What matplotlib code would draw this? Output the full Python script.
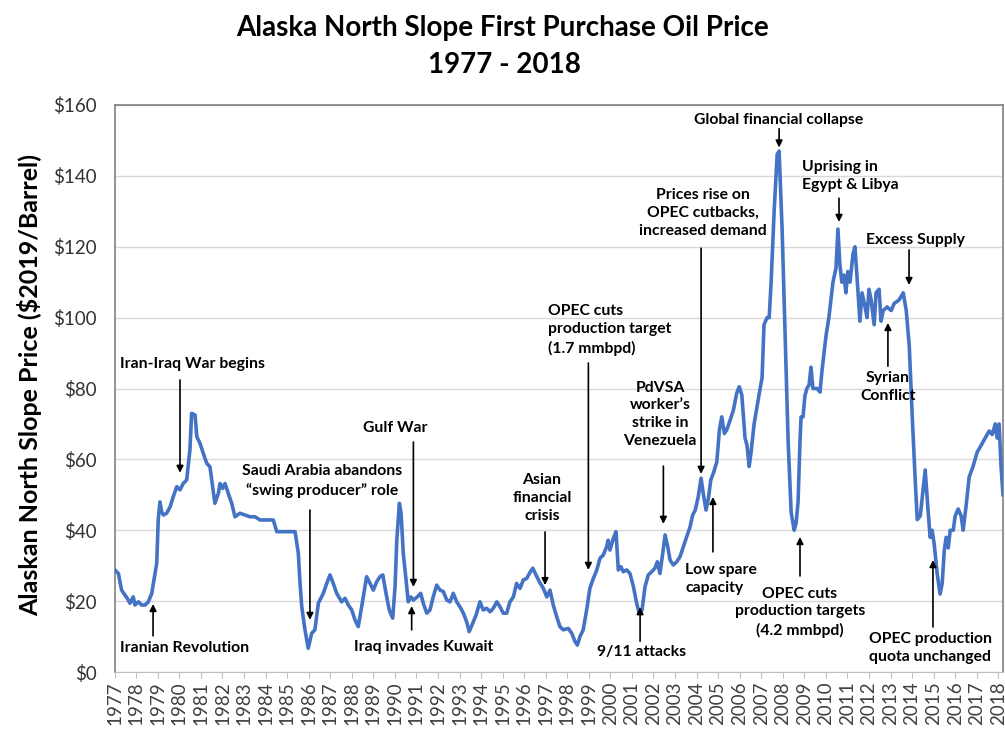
import matplotlib
matplotlib.use("Agg")
import matplotlib.pyplot as plt

plt.rcParams['font.family'] = ['Lato', 'DejaVu Sans']

# monthly-ish ANS first purchase price, $2019/barrel
price_year = [
    1977.01, 1977.17, 1977.32, 1977.48, 1977.58, 1977.71, 1977.86, 1977.94, 1978.10, 1978.25,
    1978.41, 1978.56, 1978.72, 1978.87, 1978.95, 1979.02, 1979.10, 1979.18, 1979.26, 1979.41,
    1979.57, 1979.72, 1979.88, 1980.03, 1980.18, 1980.34, 1980.49, 1980.57, 1980.73, 1980.81,
    1980.96, 1981.11, 1981.27, 1981.42, 1981.65, 1981.81, 1981.89, 1982.01, 1982.12, 1982.27,
    1982.43, 1982.58, 1982.81, 1983.05, 1983.28, 1983.51, 1983.74, 1984.05, 1984.36, 1984.52,
    1984.82, 1985.13, 1985.37, 1985.52, 1985.60, 1985.68, 1985.83, 1985.98, 1986.14, 1986.29,
    1986.45, 1986.68, 1986.84, 1986.99,
    1987.14, 1987.30, 1987.53, 1987.69, 1987.84, 1988.00, 1988.15, 1988.30, 1988.46, 1988.69,
    1988.85, 1989.00, 1989.16, 1989.31, 1989.44, 1989.59, 1989.74, 1989.90, 1990.01, 1990.09,
    1990.21, 1990.29, 1990.39, 1990.52, 1990.62, 1990.74, 1990.86, 1991.04, 1991.20, 1991.32,
    1991.48, 1991.63, 1991.78, 1991.94, 1992.10, 1992.25, 1992.41, 1992.56, 1992.71, 1992.87,
    1993.02, 1993.18, 1993.33, 1993.45, 1993.61, 1993.77, 1993.95, 1994.10, 1994.26, 1994.42,
    1994.57, 1994.73, 1994.88, 1995.03, 1995.19, 1995.34, 1995.50, 1995.65, 1995.81, 1995.96,
    1996.12, 1996.24, 1996.40, 1996.55, 1996.70, 1996.89, 1997.05,
    1997.20, 1997.35, 1997.51, 1997.66, 1997.82, 1998.05, 1998.21, 1998.36, 1998.47, 1998.59,
    1998.74, 1998.90, 1999.05, 1999.21, 1999.37, 1999.52, 1999.67, 1999.83, 1999.90, 1999.98,
    2000.14, 2000.26, 2000.37, 2000.49, 2000.60, 2000.76, 2000.91, 2001.07, 2001.22, 2001.34,
    2001.47, 2001.61, 2001.76, 2001.92, 2002.07, 2002.18, 2002.30, 2002.43, 2002.54, 2002.66,
    2002.77, 2002.92, 2003.08, 2003.23, 2003.39, 2003.54, 2003.70, 2003.82, 2003.94, 2004.08,
    2004.21, 2004.31, 2004.44, 2004.55, 2004.66, 2004.78, 2004.94, 2005.06, 2005.17, 2005.29,
    2005.40, 2005.56, 2005.71, 2005.86, 2005.98, 2006.10,
    2006.25, 2006.34, 2006.44, 2006.53, 2006.67, 2006.81, 2006.95, 2007.04, 2007.13, 2007.27,
    2007.37, 2007.46, 2007.60, 2007.74, 2007.83, 2007.97, 2008.11, 2008.25, 2008.39, 2008.53,
    2008.62, 2008.71, 2008.80, 2008.85, 2008.94, 2009.03, 2009.12, 2009.22, 2009.31, 2009.40,
    2009.59, 2009.73, 2009.82, 2010.01, 2010.14, 2010.33, 2010.47, 2010.56, 2010.65, 2010.74,
    2010.84, 2010.93, 2011.02, 2011.12, 2011.26, 2011.35, 2011.44, 2011.58, 2011.68, 2011.82,
    2011.91, 2012.00, 2012.10, 2012.24, 2012.33, 2012.47, 2012.56, 2012.66, 2012.84, 2013.03,
    2013.17, 2013.40, 2013.59, 2013.73, 2013.87, 2014.01, 2014.14, 2014.24, 2014.38, 2014.52,
    2014.61, 2014.75, 2014.84, 2014.93, 2015.03, 2015.16, 2015.30, 2015.40, 2015.49, 2015.58,
    2015.68, 2015.77, 2015.91, 2016.00, 2016.14, 2016.28, 2016.37, 2016.51, 2016.65, 2016.83,
    2017.02, 2017.21, 2017.39, 2017.58, 2017.72, 2017.86, 2017.95, 2018.04, 2018.13, 2018.22,
]
price_val = [
    28.8, 27.8, 23.1, 21.7, 20.8, 19.4, 21.2, 18.9, 19.8, 18.9,
    18.9, 19.8, 22.2, 27.8, 30.7, 42.9, 48.0, 45.2, 44.3, 44.8,
    46.6, 49.5, 52.3, 51.4, 53.2, 54.2, 62.6, 73.0, 72.5, 66.4,
    64.5, 61.7, 58.9, 57.9, 47.6, 50.4, 53.2, 51.8, 53.2, 50.4,
    47.6, 43.8, 44.8, 44.3, 43.8, 43.8, 42.9, 42.9, 42.9, 39.6,
    39.6, 39.6, 39.6, 33.5, 25.0, 18.4, 11.9, 6.7, 10.9, 11.9,
    19.4, 22.2, 25.0, 27.4,
    25.0, 22.2, 19.8, 20.8, 18.9, 17.5, 14.7, 12.8, 18.4, 26.9,
    25.0, 23.1, 25.5, 26.9, 27.4, 22.2, 17.5, 15.2, 24.1, 37.2,
    47.6, 44.8, 33.5, 26.0, 19.8, 21.2, 20.3, 21.2, 22.2, 19.4,
    16.6, 17.5, 21.2, 24.5, 23.1, 22.7, 20.3, 19.8, 22.2, 19.8,
    18.4, 16.6, 14.2, 11.4, 13.7, 16.1, 19.8, 17.5, 18.0, 17.0,
    18.0, 19.8, 18.4, 16.6, 16.6, 19.8, 21.2, 25.0, 23.6, 26.0,
    26.4, 27.8, 29.3, 27.4, 25.5, 23.6, 21.2,
    23.1, 18.9, 15.6, 12.8, 11.9, 12.3, 10.9, 8.6, 7.6, 10.0,
    11.9, 17.5, 23.6, 26.4, 28.8, 32.1, 33.0, 35.4, 37.2, 34.4,
    37.7, 39.6, 28.8, 29.7, 28.3, 28.8, 27.8, 24.1, 19.4, 16.6,
    17.5, 24.1, 27.4, 28.3, 29.3, 31.1, 27.8, 33.5, 38.7, 35.4,
    31.6, 30.2, 31.1, 32.5, 35.4, 38.2, 41.0, 44.3, 45.7, 49.5,
    54.7, 50.4, 45.7, 49.0, 54.2, 56.1, 59.3, 68.3, 72.0, 67.3,
    68.3, 71.1, 73.9, 78.6, 80.5, 78.2,
    66, 64, 58, 62, 70, 75, 80, 83, 98, 100,
    100, 110, 130, 146, 147, 125, 95, 65, 45, 40,
    42, 48, 65, 72, 72, 78, 80, 81, 86, 80,
    80, 79, 85, 95, 100, 110, 114, 125, 115, 110,
    112, 107, 113, 110, 118, 120, 112, 99, 107, 103,
    100, 108, 105, 98, 107, 108, 99, 102, 103, 102,
    104, 105, 107, 102, 92, 72, 55, 43, 44, 52,
    57, 45, 38, 40, 36, 28, 22, 25, 34, 38,
    35, 40, 40, 44, 46, 44, 40, 47, 55, 58,
    62, 64, 66, 68, 67, 70, 66, 70, 58, 50,
]

tick_years = list(range(1977, 2019))
y_ticks = list(range(0, 161, 20))

# (text, text x, text y, alignment, arrow tail, arrow tip)
notes = [
    ("Iran-Iraq War begins", 1977.25, 86.9, 'left', (1980.03, 82.4), (1980.03, 56.2)),
    ("Iranian Revolution", 1977.25, 6.8, 'left', (1978.78, 10.2), (1978.78, 19.2)),
    ("Saudi Arabia abandons\n\u201cswing producer\u201d role", 1986.63, 53.9, 'center',
     (1986.06, 45.7), (1986.06, 14.7)),
    ("Gulf War", 1990.01, 68.8, 'center', (1990.86, 64.9), (1990.86, 24.0)),
    ("Iraq invades Kuwait", 1991.35, 7.1, 'center', (1990.78, 11.9), (1990.78, 18.6)),
    ("Asian\nfinancial\ncrisis", 1996.83, 49.1, 'center', (1996.97, 39.5), (1996.97, 24.5)),
    ("OPEC cuts\nproduction target\n(1.7 mmbpd)", 1997.11, 96.5, 'left',
     (1998.98, 87.2), (1998.98, 28.8)),
    ("PdVSA\nworker\u2019s\nstrike in\nVenezuela", 2002.31, 72.7, 'center',
     (2002.46, 58.1), (2002.46, 41.8)),
    ("9/11 attacks", 2001.45, 5.6, 'center', (2001.38, 8.7), (2001.38, 18.3)),
    ("Prices rise on\nOPEC cutbacks,\nincreased demand", 2004.30, 129.5, 'center',
     (2004.21, 119.6), (2004.21, 55.9)),
    ("Low spare\ncapacity", 2003.47, 26.2, 'left', (2004.76, 33.9), (2004.76, 49.4)),
    ("Global financial collapse", 2007.83, 155.8, 'center', (2007.83, 153.3), (2007.83, 148.0)),
    ("Uprising in\nEgypt & Libya", 2008.89, 140.0, 'left', (2010.61, 133.7), (2010.61, 127.0)),
    ("Excess Supply", 2014.18, 121.9, 'center', (2013.86, 119.1), (2013.86, 109.2)),
    ("Syrian\nConflict", 2012.88, 80.4, 'center', (2012.88, 86.3), (2012.88, 98.5)),
    ("OPEC cuts\nproduction targets\n(4.2 mmbpd)", 2008.80, 16.9, 'center',
     (2008.80, 27.1), (2008.80, 38.1)),
    ("OPEC production\nquota unchanged", 2014.84, 6.8, 'center', (2014.97, 12.7), (2014.97, 31.6)),
]

fig = plt.figure(figsize=(10.05, 7.41), dpi=100)
ax = fig.add_axes([114.7 / 1005, 69 / 741, (1003 - 114.7) / 1005, 567 / 741])

ax.plot(price_year, price_val, color='#4472C4', lw=2.6, solid_joinstyle='round', zorder=3)

ax.set_xlim(1977, 2018.22)
ax.set_ylim(0, 160)
ax.set_yticks(y_ticks)
ax.set_yticklabels(['$%d' % v for v in y_ticks])
ax.set_xticks(tick_years)
ax.set_xticklabels([str(y) for y in tick_years], rotation=90)
ax.grid(axis='y', color='#d9d9d9', lw=1)
ax.set_axisbelow(True)

ax.tick_params(axis='y', length=0, pad=13, labelsize=13.5, labelcolor='#333333')
ax.tick_params(axis='x', length=4, color='#bfbfbf', pad=3, labelsize=13.5, labelcolor='#404040')
for side in ['left', 'top', 'right']:
    ax.spines[side].set_color('#808080')
    ax.spines[side].set_linewidth(1.2)
ax.spines['bottom'].set_color('#bfbfbf')

for txt, tx, ty, ha, tail, tip in notes:
    ax.text(tx, ty, txt, ha=ha, va='center', fontsize=11.3, fontweight='bold',
            linespacing=1.35, zorder=4)
    ax.annotate('', xy=tip, xytext=tail,
                arrowprops=dict(arrowstyle='-|>', color='black', lw=1.2,
                                mutation_scale=10, shrinkA=0, shrinkB=0))

fig.text(30 / 1005, 1 - 385 / 741, 'Alaskan North Slope Price ($2019/Barrel)',
         rotation=90, ha='center', va='center', fontsize=18, fontweight='bold')
fig.text(503 / 1005, 1 - 28 / 741, 'Alaska North Slope First Purchase Oil Price',
         ha='center', va='center', fontsize=20, fontweight='bold')
fig.text(504 / 1005, 1 - 65 / 741, '1977 - 2018',
         ha='center', va='center', fontsize=20, fontweight='bold')

fig.savefig('out.png', dpi=100)
